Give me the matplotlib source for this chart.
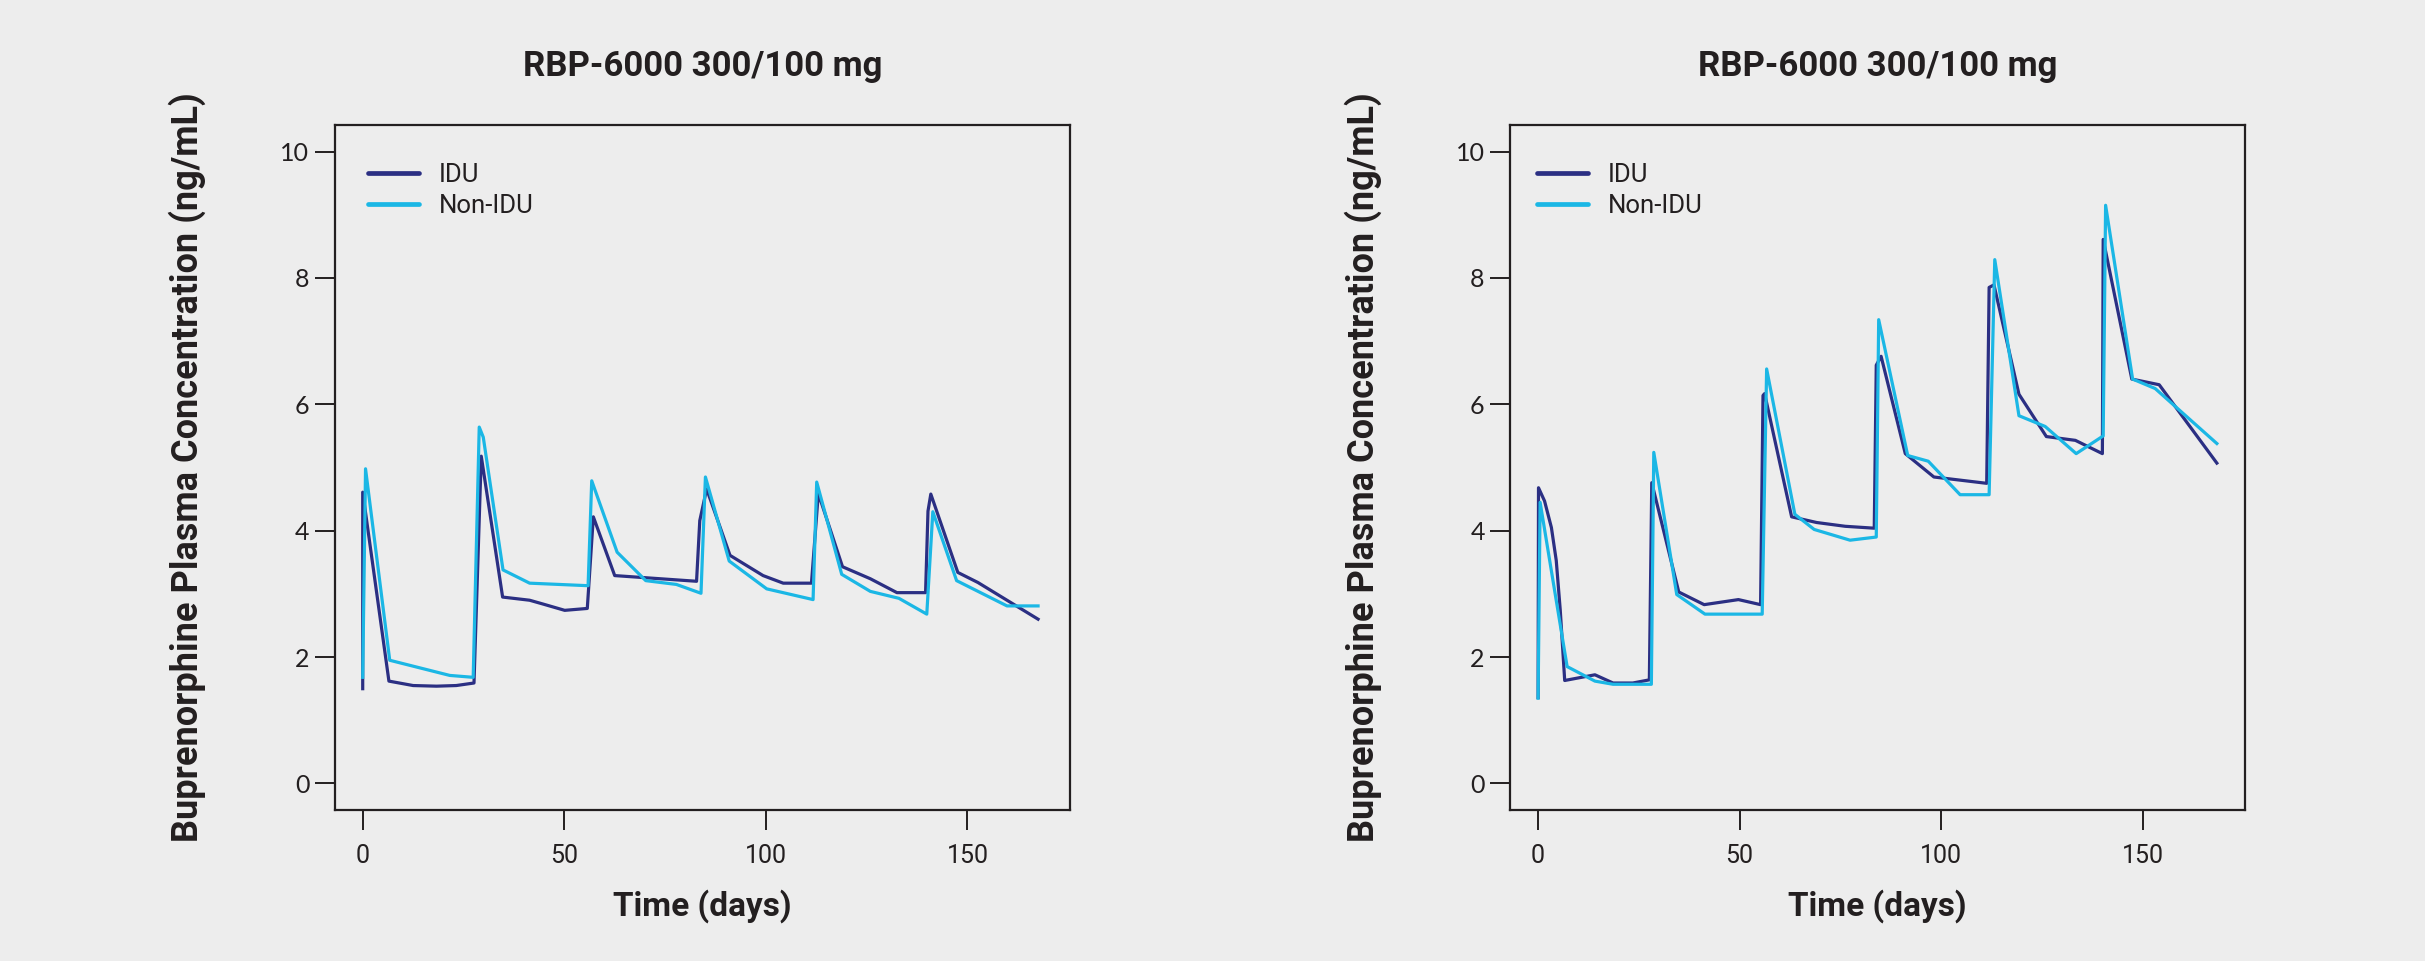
import matplotlib
matplotlib.use('Agg')
from matplotlib import pyplot as plt

# panel 1 (left)
left_idu_day = [0, 0, 6.5, 12.5, 18.3, 23.2, 27.6, 29.4, 34.7, 41.4, 44.7, 50.1, 55.7, 57.2, 62.5,
                82.8, 83.6, 85.3, 91.1, 99.3, 104.3, 111.3, 113.0, 119.0, 125.9, 132.5, 139.6,
                140.2, 140.9, 147.6, 152.6, 167.5]
left_idu_conc = [1.50, 4.61, 1.62, 1.55, 1.54, 1.55, 1.59, 5.18, 2.95, 2.90, 2.84, 2.74, 2.77, 4.22, 3.29,
                 3.20, 4.16, 4.66, 3.61, 3.29, 3.17, 3.17, 4.59, 3.43, 3.24, 3.02, 3.02,
                 4.31, 4.58, 3.34, 3.18, 2.60]
left_non_day = [0, 0.7, 6.7, 21.6, 27.4, 28.9, 29.9, 34.8, 41.4, 55.9, 56.8, 63.1, 70.2, 77.8, 83.9,
                85.0, 90.9, 100.2, 111.7, 112.6, 118.8, 125.9, 133.0, 139.9, 141.4, 147.3, 159.8, 167.5]
left_non_conc = [1.68, 4.98, 1.95, 1.71, 1.68, 5.64, 5.48, 3.38, 3.17, 3.13, 4.79, 3.66, 3.21, 3.15, 3.01,
                 4.85, 3.52, 3.08, 2.91, 4.77, 3.31, 3.04, 2.93, 2.68, 4.30, 3.21, 2.81, 2.81]

# panel 2 (right)
right_idu_day = [0, 0.1, 1.6, 3.3, 4.5, 5.5, 6.6, 14.1, 18.6, 23.5, 27.6, 28.2, 34.9, 41.2, 49.7, 55.2,
                 55.8, 56.2, 62.9, 69.1, 76.2, 83.4, 83.9, 85.1, 91.1, 98.2, 111.3, 111.9, 113.1,
                 119.3, 126.1, 133.3, 140.0, 140.2, 147.3, 154.1, 168.4]
right_idu_conc = [1.36, 4.68, 4.47, 4.05, 3.53, 2.74, 1.63, 1.72, 1.59, 1.59, 1.64, 4.76, 3.03, 2.83, 2.91, 2.83,
                  6.14, 6.17, 4.22, 4.13, 4.07, 4.04, 6.62, 6.76, 5.22, 4.85, 4.75, 7.85, 7.89,
                  6.16, 5.49, 5.43, 5.22, 8.61, 6.40, 6.31, 5.07]
right_non_day = [0, 0.5, 7.2, 14.1, 18.6, 28.1, 28.7, 34.4, 41.4, 55.6, 56.7, 63.7, 68.5, 77.4, 83.9,
                 84.5, 91.7, 96.8, 104.7, 111.9, 113.3, 119.3, 125.8, 133.5, 140.2, 140.8, 147.5, 153.1, 168.4]
right_non_conc = [1.35, 4.45, 1.85, 1.62, 1.57, 1.57, 5.24, 2.99, 2.68, 2.68, 6.56, 4.26, 4.02, 3.85, 3.90,
                  7.34, 5.19, 5.10, 4.57, 4.57, 8.29, 5.82, 5.65, 5.22, 5.50, 9.15, 6.40, 6.25, 5.38]

title = 'RBP-6000 300/100 mg'
x_ticks = [0, 50, 100, 150]
y_ticks = [0, 2, 4, 6, 8, 10]

BG = '#EDEDED'
INK = '#231F20'
IDU_COLOR = '#2B2F83'
NON_COLOR = '#1BB7E5'

plt.rcParams['font.family'] = ['Roboto', 'DejaVu Sans']

fig = plt.figure(figsize=(24.25, 9.61), dpi=100, facecolor=BG)


def draw_panel(ax, idu_day, idu_conc, non_day, non_conc, leg_x):
    ax.set_facecolor(BG)
    ax.plot(idu_day, idu_conc, color=IDU_COLOR, linewidth=2.3, label='IDU')
    ax.plot(non_day, non_conc, color=NON_COLOR, linewidth=2.3, label='Non-IDU')
    ax.set_xlim(-6.9, 175.4)
    ax.set_ylim(-0.42, 10.42)
    ax.set_xticks(x_ticks)
    ax.set_yticks(y_ticks)
    ax.tick_params(direction='out', length=14.4, width=1.4, color=INK, labelcolor=INK)
    ax.tick_params(axis='x', pad=10, labelsize=18)
    ax.tick_params(axis='y', pad=4, labelsize=18)
    for lab in ax.get_yticklabels():
        lab.set_family(['Lato', 'DejaVu Sans'])
    for sp in ax.spines.values():
        sp.set_color(INK)
        sp.set_linewidth(1.6)
    ax.set_title(title, fontsize=25, fontweight='bold', color=INK, pad=35)
    ax.set_xlabel('Time (days)', fontsize=24, fontweight='bold', color=INK)
    ax.xaxis.set_label_coords(0.5, -0.115)
    ax.set_ylabel('Buprenorphine Plasma Concentration (ng/mL)', fontsize=26,
                  fontweight='bold', color=INK)
    ax.yaxis.set_label_coords(-0.175, 0.5)
    leg = ax.legend(loc='upper left', bbox_to_anchor=(leg_x, 0.945), frameon=False,
                    fontsize=18.5, handlelength=2.0, handletextpad=0.75, labelspacing=0.28,
                    borderaxespad=0, borderpad=0)
    for line in leg.get_lines():
        line.set_linewidth(3.4)
        line.set_solid_capstyle('round')
    for t in leg.get_texts():
        t.set_color(INK)


ax1 = fig.add_axes([0.1381, 0.1571, 0.3031, 0.7128])
ax2 = fig.add_axes([0.6228, 0.1571, 0.3030, 0.7128])

draw_panel(ax1, left_idu_day, left_idu_conc, left_non_day, left_non_conc, 0.045)
draw_panel(ax2, right_idu_day, right_idu_conc, right_non_day, right_non_conc, 0.036)

fig.savefig('out.png', dpi=100, facecolor=BG)
